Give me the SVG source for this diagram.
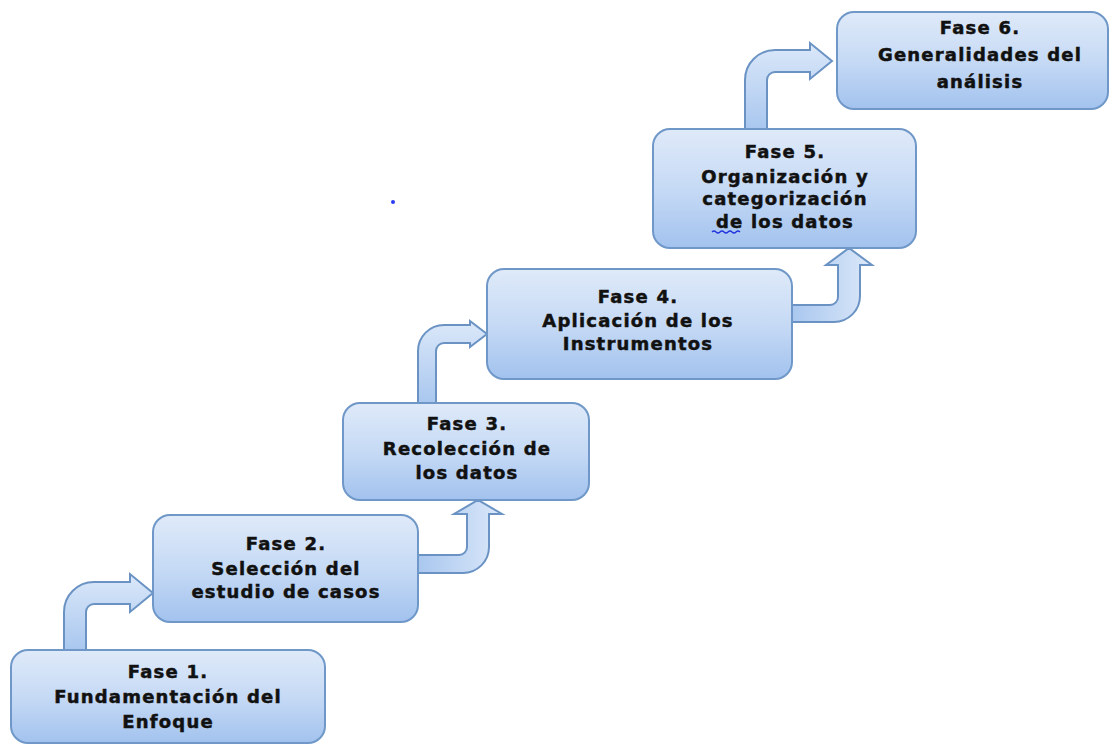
<svg xmlns="http://www.w3.org/2000/svg" width="1110" height="745" viewBox="0 0 1110 745">
<defs>
<linearGradient id="boxGrad" x1="0" y1="0" x2="0" y2="1">
<stop offset="0" stop-color="#dfeaf9"/>
<stop offset="0.5" stop-color="#c6daf5"/>
<stop offset="1" stop-color="#a2c2ee"/>
</linearGradient>
<linearGradient id="arrV" x1="0" y1="0" x2="0" y2="1">
<stop offset="0" stop-color="#dbe8f9"/>
<stop offset="1" stop-color="#a9c7ef"/>
</linearGradient>
<linearGradient id="arrH" x1="0" y1="0" x2="1" y2="0">
<stop offset="0" stop-color="#a9c7ef"/>
<stop offset="1" stop-color="#dbe8f9"/>
</linearGradient>
<style>
.box{fill:url(#boxGrad);stroke:#6f98c8;stroke-width:2}
.arr{stroke:#6a93c4;stroke-width:2;stroke-linejoin:miter}
.t{font-family:"DejaVu Sans",Verdana,sans-serif;font-weight:bold;font-size:18px;letter-spacing:1.2px;fill:#111;stroke:#111;stroke-width:0.5;text-anchor:middle}
</style>
</defs>
<rect width="1110" height="745" fill="#ffffff"/>

<g id="connectors">
<path class="arr" fill="url(#arrV)" d="M64,650 L64,612 A30,30 0 0 1 94,582 L130,582 L130,574 L153,593 L130,612 L130,604 L94,604 A8,8 0 0 0 86,612 L86,650 Z"/>
<path class="arr" fill="url(#arrH)" d="M418,555 L459,555 A8,8 0 0 0 467,547 L467,514 L454,514 L478,500 L502,514 L489,514 L489,547 A26,26 0 0 1 463,573 L418,573 Z"/>
<path class="arr" fill="url(#arrV)" d="M418,403 L418,351 A26,26 0 0 1 444,325 L470,325 L470,321 L487,334 L470,347 L470,343 L444,343 A8,8 0 0 0 436,351 L436,403 Z"/>
<path class="arr" fill="url(#arrH)" d="M792,305 L830,305 A8,8 0 0 0 838,297 L838,265 L826,265 L849,248 L872,265 L860,265 L860,296 A26,26 0 0 1 834,322 L792,322 Z"/>
<path class="arr" fill="url(#arrV)" d="M745,129 L745,80 A30,30 0 0 1 775,50 L810,50 L810,43 L832,61 L810,79 L810,72 L775,72 A8,8 0 0 0 767,80 L767,129 Z"/>
</g>

<g id="fase1">
<rect class="box" x="11" y="650" width="314" height="93" rx="17"/>
<text class="t" x="168" y="678">Fase 1.</text>
<text class="t" x="168" y="703">Fundamentación del</text>
<text class="t" x="168" y="728">Enfoque</text>
</g>
<g id="fase2">
<rect class="box" x="153" y="515" width="265" height="107" rx="17"/>
<text class="t" x="286" y="550">Fase 2.</text>
<text class="t" x="286" y="575">Selección del</text>
<text class="t" x="286" y="598">estudio de casos</text>
</g>
<g id="fase3">
<rect class="box" x="343" y="403" width="246" height="97" rx="17"/>
<text class="t" x="467" y="430">Fase 3.</text>
<text class="t" x="467" y="455">Recolección de</text>
<text class="t" x="467" y="479">los datos</text>
</g>
<g id="fase4">
<rect class="box" x="487" y="269" width="305" height="110" rx="17"/>
<text class="t" x="638" y="303">Fase 4.</text>
<text class="t" x="638" y="327">Aplicación de los</text>
<text class="t" x="638" y="350">Instrumentos</text>
</g>
<g id="fase5">
<rect class="box" x="653" y="129" width="263" height="119" rx="17"/>
<text class="t" x="785" y="158">Fase 5.</text>
<text class="t" x="785" y="183">Organización y</text>
<text class="t" x="785" y="205">categorización</text>
<text class="t" x="785" y="228">de los datos</text>
<path d="M712,232 q2,-2 4,0 t4,0 t4,0 t4,0 t4,0 t4,0 t4,0" fill="none" stroke="#2233dd" stroke-width="1.3"/>
</g>
<g id="fase6">
<rect class="box" x="837" y="12" width="271" height="97" rx="17"/>
<text class="t" x="980" y="34">Fase 6.</text>
<text class="t" x="980" y="61">Generalidades del</text>
<text class="t" x="980" y="88">análisis</text>
</g>
<circle cx="393" cy="202" r="2" fill="#2a3cf0"/>
</svg>
